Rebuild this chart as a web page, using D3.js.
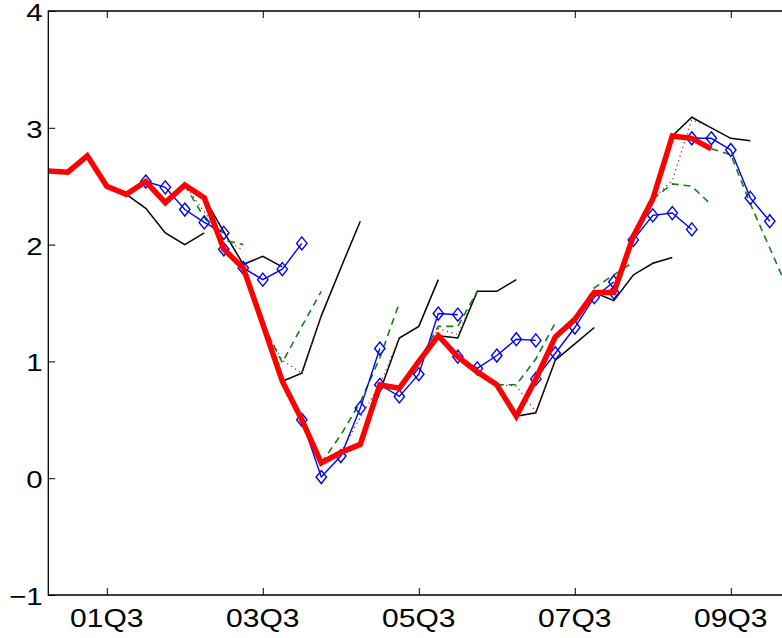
<!DOCTYPE html>
<html>
<head>
<meta charset="utf-8">
<script src="https://cdn.jsdelivr.net/npm/d3@7"></script>
<style>
  html, body { margin: 0; padding: 0; background: #fff; }
  svg { display: block; }
</style>
</head>
<body>
<svg id="chart" width="782" height="638"></svg>
<script>
// ---------- DATA ----------
const quarters = ["00Q4","01Q1","01Q2","01Q3","01Q4","02Q1","02Q2","02Q3","02Q4",
  "03Q1","03Q2","03Q3","03Q4","04Q1","04Q2","04Q3","04Q4","05Q1","05Q2","05Q3","05Q4",
  "06Q1","06Q2","06Q3","06Q4","07Q1","07Q2","07Q3","07Q4","08Q1","08Q2","08Q3","08Q4",
  "09Q1","09Q2","09Q3","09Q4","10Q1","10Q2"];
const xTickLabels = ["01Q3","03Q3","05Q3","07Q3","09Q3"];
const yTickValues = [-1, 0, 1, 2, 3, 4];

// actual (thick red), from 00Q4
const actualStart = "00Q4";
const actualValues = [2.63,2.62,2.76,2.50,2.43,2.54,2.36,2.51,2.40,1.96,1.80,1.32,0.83,0.50,
  0.13,0.22,0.29,0.80,0.77,1.00,1.22,1.04,0.91,0.80,0.53,0.85,1.21,1.36,1.59,1.59,2.07,2.39,
  2.93,2.91,2.82];

// blue diamond forecasts
const blueStarts = ["02Q1","03Q1","04Q1","05Q1","06Q1","07Q1","08Q1","09Q1"];
const blueValues = [
  [2.54,2.49,2.30,2.19,2.10],
  [1.96,1.80,1.70,1.79,2.01],
  [0.50,0.01,0.19,0.60,1.11],
  [0.80,0.70,0.89,1.41,1.40],
  [1.04,0.94,1.05,1.19,1.18],
  [0.85,1.07,1.29,1.55,1.68],
  [1.59,2.04,2.25,2.27,2.13],
  [2.91,2.91,2.81,2.40,2.20]
];

// black solid forecasts
const blackStarts = ["01Q4","02Q4","03Q4","04Q4","05Q4","06Q4","07Q4","08Q4"];
const blackValues = [
  [2.43,2.31,2.10,2.00,2.10],
  [2.40,2.11,1.83,1.90,1.81],
  [0.83,0.90,1.39,1.80,2.20],
  [0.29,0.74,1.20,1.30,1.70],
  [1.22,1.20,1.60,1.60,1.70],
  [0.53,0.56,1.01,1.15,1.29],
  [1.59,1.52,1.74,1.84,1.89],
  [2.93,3.09,3.00,2.91,2.89]
];

// green dashed forecasts
const greenStarts = ["02Q3","03Q3","04Q2","05Q3","06Q3","07Q3","08Q3","09Q2"];
const greenValues = [
  [2.51,2.23,2.04,2.00],
  [1.32,0.99,1.30,1.60],
  [0.13,0.37,0.65,1.03,1.50],
  [1.00,1.30,1.30,1.60],
  [0.80,0.80,1.02,1.33],
  [1.36,1.63,1.74,1.85],
  [2.39,2.52,2.50,2.34],
  [2.82,2.77,2.35,1.97,1.59]
];

// dark red dotted forecasts
const dotStarts = ["02Q3","03Q3","04Q3","05Q3","06Q3","07Q3","08Q3"];
const dotValues = [
  [2.51,2.28,2.05,1.95],
  [1.32,1.01,0.90,1.39],
  [0.22,0.52,0.80,1.20],
  [1.00,1.28,1.23,1.60],
  [0.80,0.79,0.57,1.01],
  [1.36,1.57,1.60,2.05],
  [2.39,2.55,3.07,3.00]
];

// ---------- LAYOUT ----------
const svg = d3.select("#chart");
const padL = 48.3, padT = 11, padB = 595;
const x = d3.scalePoint().domain(quarters).range([padL, padL + 19.5 * (quarters.length - 1)]);
const y = d3.scaleLinear().domain([-1, 4]).range([padB, padT]);
const padR = x(quarters[quarters.length - 1]);

function seriesPoints(start, vals) {
  const i0 = quarters.indexOf(start);
  return vals.map((v, i) => [quarters[i0 + i], v]);
}
const line = d3.line().x(d => x(d[0])).y(d => y(d[1]));

const plot = svg.append("g");

// black
plot.append("g").selectAll("path").data(blackStarts.map((s, i) => seriesPoints(s, blackValues[i])))
  .join("path").attr("d", line).attr("fill", "none").attr("stroke", "#000").attr("stroke-width", 1.5);

// dotted dark red
plot.append("g").selectAll("path").data(dotStarts.map((s, i) => seriesPoints(s, dotValues[i])))
  .join("path").attr("d", line).attr("fill", "none").attr("stroke", "#8b2020")
  .attr("stroke-width", 1.2).attr("stroke-dasharray", "1.2,3.5");

// green dashed
plot.append("g").selectAll("path").data(greenStarts.map((s, i) => seriesPoints(s, greenValues[i])))
  .join("path").attr("d", line).attr("fill", "none").attr("stroke", "#108010")
  .attr("stroke-width", 1.6).attr("stroke-dasharray", "7,5");

// blue with diamonds
const blueSeries = blueStarts.map((s, i) => seriesPoints(s, blueValues[i]));
const gBlue = plot.append("g");
gBlue.selectAll("path.l").data(blueSeries).join("path").attr("class", "l")
  .attr("d", line).attr("fill", "none").attr("stroke", "#0000ff").attr("stroke-width", 1.4);
gBlue.selectAll("path.m").data(blueSeries.flat()).join("path").attr("class", "m")
  .attr("d", "M0,-6.5L5.2,0L0,6.5L-5.2,0Z")
  .attr("transform", d => `translate(${x(d[0])},${y(d[1])})`)
  .attr("fill", "none").attr("stroke", "#0000ff").attr("stroke-width", 1.4);

// actual red
plot.append("path").datum(seriesPoints(actualStart, actualValues))
  .attr("d", line).attr("fill", "none").attr("stroke", "#ff0000")
  .attr("stroke-width", 5.5).attr("stroke-linejoin", "miter");

// ---------- AXES ----------
const axG = svg.append("g").attr("stroke", "#000").attr("stroke-width", 1.3).attr("fill", "none");
axG.append("path").attr("d", `M${padR},${padT}H${padL}V${padB}H${padR}`);
const xb = d3.axisBottom(x).tickValues(xTickLabels).tickSize(-7).tickSizeOuter(0).tickFormat("");
const xt = d3.axisTop(x).tickValues(xTickLabels).tickSize(-7).tickSizeOuter(0).tickFormat("");
const yl = d3.axisLeft(y).tickValues(yTickValues).tickSize(-7).tickSizeOuter(0).tickFormat("");
[
  [xb, `translate(0,${padB})`],
  [xt, `translate(0,${padT})`],
  [yl, `translate(${padL},0)`]
].forEach(([ax, tr]) => {
  const g = svg.append("g").attr("transform", tr).call(ax);
  g.select(".domain").remove();
  g.selectAll("line").attr("stroke", "#000").attr("stroke-width", 1);
});

const font = "'Liberation Sans', Arial, Helvetica, sans-serif";
const sx = 1.2;
svg.append("g").selectAll("text").data(xTickLabels).join("text")
  .attr("transform", d => `translate(${x(d)},627) scale(${sx},1)`)
  .attr("text-anchor", "middle").attr("font-family", font).attr("font-size", 25)
  .attr("fill", "#000").text(d => d);
svg.append("g").selectAll("text").data(yTickValues).join("text")
  .attr("transform", d => `translate(${padL - 5.6},${y(d) + 10}) scale(${sx},1)`)
  .attr("text-anchor", "end").attr("font-family", font).attr("font-size", 24.5)
  .attr("fill", "#000").text(d => d < 0 ? "\u2212" + Math.abs(d) : String(d));
</script>
</body>
</html>
